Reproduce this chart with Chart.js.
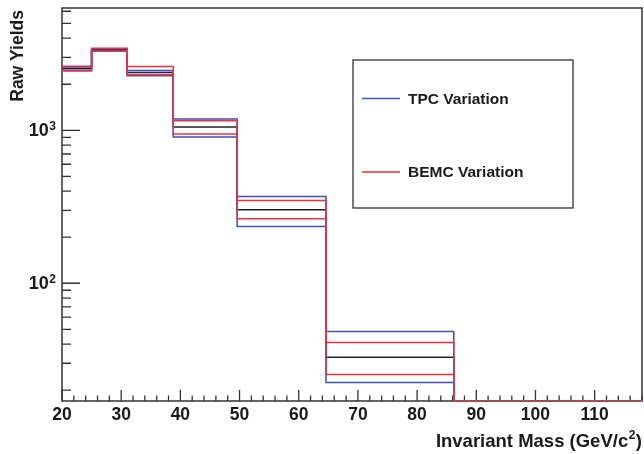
<!DOCTYPE html>
<html>
<head>
<meta charset="utf-8">
<script src="https://cdn.jsdelivr.net/npm/chart.js@4.4.1/dist/chart.umd.min.js"></script>
<style>
  body { margin: 0; background: #fff; }
  canvas { display: block; }
</style>
</head>
<body>
<canvas id="massChart" width="644" height="454"></canvas>
<script>
// Bin edges of the histograms (GeV/c^2)
const binEdges = [20, 25, 31, 38.8, 49.6, 64.6, 86.2, 118];

// Raw yields per bin (last bin is empty)
const nominal  = [2530, 3360, 2390, 1049, 302, 32.9, 0];
const tpcUp    = [2590, 3410, 2460, 1184, 369, 48.4, 0];
const tpcDown  = [2470, 3310, 2270,  903, 235, 22.5, 0];
const bemcUp   = [2620, 3440, 2610, 1154, 347, 41.0, 0];
const bemcDown = [2440, 3280, 2306,  944, 264, 25.3, 0];

// Axis ticks
const xTickValues = [20, 30, 40, 50, 60, 70, 80, 90, 100, 110];
const yDecades = [100, 1000];
const yDecadeExp = ['2', '3'];

const xMin = 20, xMax = 118;
const yMin = 17, yMax = 6300;

const blue = '#3b4fc2';
const red = '#e8323c';
const black = '#222222';
const fontName = '"Liberation Sans", Arial, sans-serif';

// step histogram points, empty bins sit on the frame bottom like ROOT does
function histPoints(vals) {
    const pts = vals.map((v, i) => ({ x: binEdges[i], y: v > 0 ? v : yMin }));
    pts.push({ x: binEdges[binEdges.length - 1], y: pts[pts.length - 1].y });
    return pts;
}

function histDataset(label, vals, color) {
    return {
        label: label,
        data: histPoints(vals),
        borderColor: color,
        borderWidth: 1.5,
        pointRadius: 0,
        stepped: true,
        fill: false
    };
}

// ROOT style frame, inward ticks, labels and legend
const rootStyle = {
    id: 'rootStyle',
    beforeDatasetsDraw(chart) {
        const ctx = chart.ctx;
        const a = chart.chartArea;
        const xs = chart.scales.x;
        const ys = chart.scales.y;
        ctx.save();
        ctx.strokeStyle = '#333';
        ctx.lineWidth = 1.5;
        ctx.strokeRect(a.left, a.top, a.right - a.left, a.bottom - a.top);

        ctx.lineWidth = 1.3;
        ctx.beginPath();
        // x ticks every 2, major every 10
        for (let v = xMin; v <= xMax; v += 2) {
            const px = xs.getPixelForValue(v);
            const len = (v % 10 === 0) ? 11 : 5.5;
            ctx.moveTo(px, a.bottom);
            ctx.lineTo(px, a.bottom - len);
        }
        // y log ticks
        for (let dec = 10; dec <= 1000; dec *= 10) {
            for (let m = 1; m <= 9; m++) {
                const v = dec * m;
                if (v < yMin || v > yMax) continue;
                const py = ys.getPixelForValue(v);
                const len = (m === 1) ? 18 : 9;
                ctx.moveTo(a.left, py);
                ctx.lineTo(a.left + len, py);
            }
        }
        ctx.stroke();
        ctx.restore();
    },
    afterDraw(chart) {
        const ctx = chart.ctx;
        const ys = chart.scales.y;
        ctx.save();
        ctx.fillStyle = '#1a1a1a';

        // y decade labels 10^n
        yDecades.forEach((v, i) => {
            const py = ys.getPixelForValue(v);
            ctx.font = 'bold 12px ' + fontName;
            const supW = ctx.measureText(yDecadeExp[i]).width;
            const right = 56;
            ctx.textAlign = 'left';
            ctx.textBaseline = 'alphabetic';
            ctx.fillText(yDecadeExp[i], right - supW, py - 0.5);
            ctx.font = 'bold 18px ' + fontName;
            ctx.textAlign = 'right';
            ctx.textBaseline = 'middle';
            ctx.fillText('10', right - supW - 0.5, py + 1);
        });

        // y title
        ctx.save();
        ctx.translate(18.5, 10);
        ctx.rotate(-Math.PI / 2);
        ctx.font = 'bold 17.5px ' + fontName;
        ctx.textAlign = 'right';
        ctx.textBaseline = 'middle';
        ctx.fillText('Raw Yields', 0, 0);
        ctx.restore();

        // x title with superscript
        const main = 'Invariant Mass (GeV/c';
        const sup = '2';
        const tail = ')';
        ctx.textAlign = 'left';
        ctx.textBaseline = 'alphabetic';
        ctx.font = 'bold 18.5px ' + fontName;
        const wMain = ctx.measureText(main).width;
        const wTail = ctx.measureText(tail).width;
        ctx.font = 'bold 12px ' + fontName;
        const wSup = ctx.measureText(sup).width;
        const x0 = 641 - wMain - wSup - wTail;
        const base = 447;
        ctx.font = 'bold 18.5px ' + fontName;
        ctx.fillText(main, x0, base);
        ctx.font = 'bold 12px ' + fontName;
        ctx.fillText(sup, x0 + wMain + 0.5, base - 8);
        ctx.font = 'bold 18.5px ' + fontName;
        ctx.fillText(tail, x0 + wMain + wSup + 1, base);

        // legend box
        const box = { left: 353, top: 60, right: 573, bottom: 208 };
        ctx.fillStyle = '#fff';
        ctx.fillRect(box.left, box.top, box.right - box.left, box.bottom - box.top);
        ctx.strokeStyle = '#333';
        ctx.lineWidth = 1.3;
        ctx.strokeRect(box.left, box.top, box.right - box.left, box.bottom - box.top);
        const ds = chart.data.datasets;
        const items = [
            { label: ds[2].label, color: ds[2].borderColor, y: 98.5 },
            { label: ds[0].label, color: ds[0].borderColor, y: 172 }
        ];
        items.forEach(it => {
            ctx.strokeStyle = it.color;
            ctx.lineWidth = 1.5;
            ctx.beginPath();
            ctx.moveTo(362, it.y);
            ctx.lineTo(400, it.y);
            ctx.stroke();
            ctx.fillStyle = '#1a1a1a';
            ctx.font = 'bold 15.5px ' + fontName;
            ctx.textAlign = 'left';
            ctx.textBaseline = 'middle';
            ctx.fillText(it.label, 408, it.y + 1);
        });
        ctx.restore();
    }
};

// Chart.js paints the first dataset on top, so red goes first
const ctx = document.getElementById('massChart').getContext('2d');
new Chart(ctx, {
    type: 'line',
    data: {
        datasets: [
            histDataset('BEMC Variation', bemcUp, red),
            histDataset('BEMC Variation', bemcDown, red),
            histDataset('TPC Variation', tpcUp, blue),
            histDataset('TPC Variation', tpcDown, blue),
            histDataset('Nominal', nominal, black)
        ]
    },
    options: {
        responsive: false,
        animation: false,
        layout: { padding: { top: 8, right: 2, left: 0, bottom: 0 } },
        plugins: {
            legend: { display: false },
            tooltip: { enabled: false }
        },
        scales: {
            x: {
                type: 'linear',
                min: xMin,
                max: xMax,
                grid: { display: false, drawTicks: false },
                border: { display: false },
                afterBuildTicks: scale => {
                    scale.ticks = xTickValues.map(v => ({ value: v }));
                },
                afterFit: scale => { scale.height = 53; },
                ticks: {
                    color: '#1a1a1a',
                    font: { family: fontName, size: 17.5, weight: 'bold' },
                    padding: 4,
                    maxRotation: 0,
                    autoSkip: false
                }
            },
            y: {
                type: 'logarithmic',
                min: yMin,
                max: yMax,
                grid: { display: false, drawTicks: false },
                border: { display: false },
                afterFit: scale => { scale.width = 62; },
                ticks: { display: false }
            }
        }
    },
    plugins: [rootStyle]
});
</script>
</body>
</html>
